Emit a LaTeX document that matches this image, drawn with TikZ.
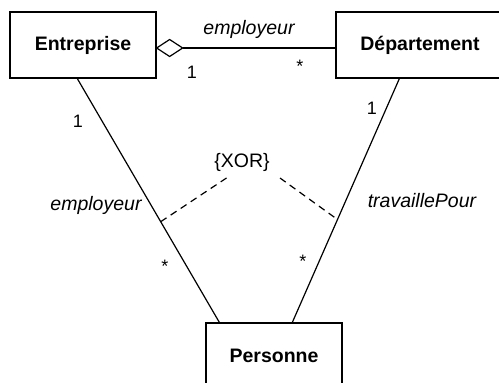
\documentclass[tikz,border=0pt]{standalone}
\usepackage{fontspec}
\setmainfont{Liberation Sans}
\usetikzlibrary{calc}
\begin{document}
\begin{tikzpicture}[x=1pt,y=-1pt,
  cls/.style={draw, line width=1.3pt, fill=white, minimum height=66pt, inner sep=0pt,
    font=\fontsize{19.5}{23}\selectfont\bfseries},
  assoc/.style={line width=1.2pt},
  lbl/.style={font=\fontsize{19.5}{23}\selectfont\itshape, inner sep=0pt},
  mult/.style={font=\fontsize{18}{21}\selectfont, inner sep=0pt},
  xorline/.style={line width=1.2pt, dash pattern=on 7pt off 5pt}]
\useasboundingbox (0,0) rectangle (499,383);
\clip (0,0) rectangle (499,383);
\fill[white] (0,0) rectangle (499,383);
% classes
\node[cls, minimum width=146pt] (ent) at (83,45) {Entreprise};
\node[cls, minimum width=168pt] (dep) at (420,45) {Département};
\node[cls, minimum width=136pt] (per) at (274,356) {Personne};
% aggregation
\coordinate (dtip) at ($(ent.east)+(0,3)$);
\coordinate (dend) at ($(dep.west)+(0,3)$);
\draw[assoc] (dtip) -- ++(13,-8.5) -- ++(13,8.5) -- ++(-13,8.5) -- cycle;
\draw[assoc] ($(dtip)+(26,0)$) -- (dend);
\node[lbl] (l1) at (249,29) {employeur};
\node[mult] (m1) at (192,72) {1};
\node[mult] (m2) at (300,66) {*};
% Entreprise - Personne
\coordinate (a1) at ($(ent.south west)+(68,0)$);
\coordinate (a2) at ($(per.north west)+(14,0)$);
\draw[assoc] (a1) -- (a2);
\node[mult] (m3) at (78,121) {1};
\node[lbl] (l2) at (96,205) {employeur};
\node[mult] (m4) at (165,266) {*};
% Departement - Personne
\coordinate (b1) at ($(dep.south west)+(64,0)$);
\coordinate (b2) at ($(per.north west)+(87,0)$);
\draw[assoc] (b1) -- (b2);
\node[mult] (m5) at (372,108) {1};
\node[lbl] (l3) at (422,201) {travaillePour};
\node[mult] (m6) at (303,261) {*};
% XOR constraint
\node[font=\fontsize{19.5}{23}\selectfont, inner sep=0pt] (xor) at (242,162) {\{XOR\}};
\coordinate (x1) at ($(a1)!0.587!(a2)$);
\coordinate (x2) at ($(b1)!0.578!(b2)$);
\draw[xorline] (x1) -- (228,177);
\draw[xorline] (280,178) -- (x2);
\end{tikzpicture}
\end{document}
